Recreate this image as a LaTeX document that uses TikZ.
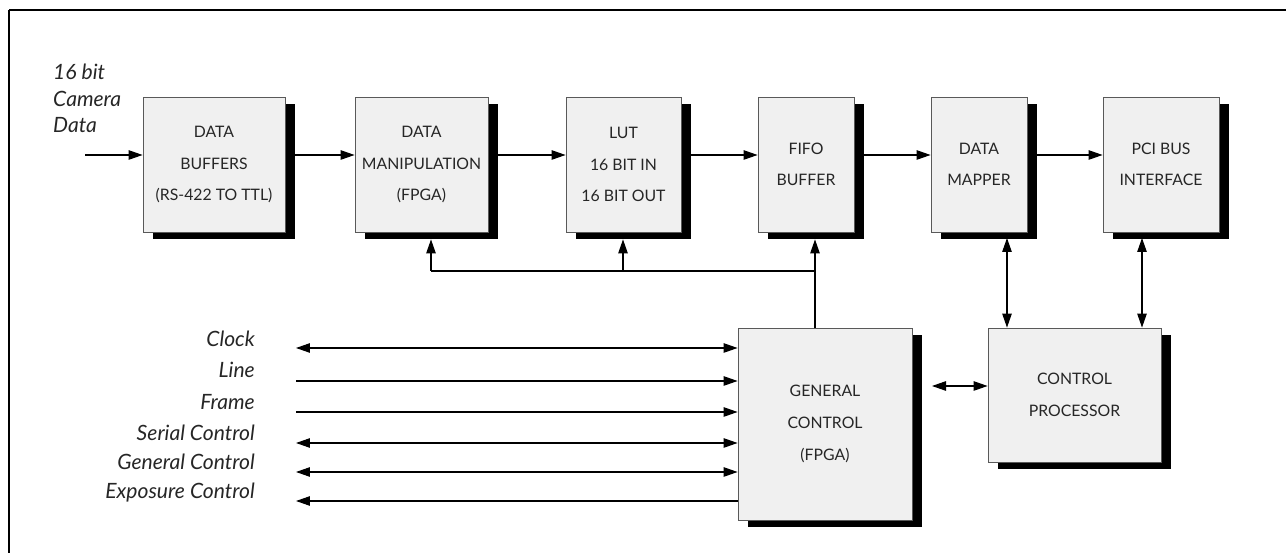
\documentclass[tikz,border=0pt]{standalone}
\usepackage{fontspec}
\setmainfont{Lato}
\usetikzlibrary{arrows.meta,shadows}

\begin{document}
\begin{tikzpicture}[x=0.02cm, y=-0.02cm,
    block/.style={draw=black!65, line width=0.5pt, fill=black!6, text=black!85,
        align=center, inner sep=0pt, font=\fontsize{9}{18}\selectfont,
        general shadow={fill=black, shadow xshift=0.2cm, shadow yshift=-0.14cm}},
    signal/.style={text=black!85, font=\itshape\fontsize{12}{15}\selectfont},
    wire/.style={line width=0.6pt},
    >={Triangle[length=0.28cm,width=0.19cm]}]
    \useasboundingbox (0,0) rectangle (1286,553);

    % page frame
    \draw[line width=1.1pt] (9,10) -- (1286,10);
    \draw[line width=0.85pt] (9,10) -- (9,553);

    % data path
    \node[block, minimum width=2.84cm, minimum height=2.7cm] (buf)    at (214,164.5)  {DATA\\BUFFERS\\(RS-422 TO TTL)};
    \node[block, minimum width=2.66cm, minimum height=2.7cm] (manip)  at (421.5,164.5) {DATA\\MANIPULATION\\(FPGA)};
    \node[block, minimum width=2.3cm,  minimum height=2.7cm] (lut)    at (623.5,164.5) {LUT\\16 BIT IN\\16 BIT OUT};
    \node[block, minimum width=1.92cm, minimum height=2.7cm] (fifo)   at (806,164.5)  {FIFO\\BUFFER};
    \node[block, minimum width=1.92cm, minimum height=2.7cm] (mapper) at (979,164.5)  {DATA\\MAPPER};
    \node[block, minimum width=2.32cm, minimum height=2.7cm] (pci)    at (1161,164.5) {PCI BUS\\INTERFACE};

    % control blocks
    \node[block, minimum width=3.48cm, minimum height=3.84cm] (gc) at (825,424)    {GENERAL\\CONTROL\\(FPGA)};
    \node[block, minimum width=3.46cm, minimum height=2.68cm] (cp) at (1074.5,395) {CONTROL\\PROCESSOR};

    % camera input
    \node[signal, anchor=base west, align=left, font=\itshape\fontsize{12}{15.2}\selectfont] (camlbl) at (47,133) {16 bit\\Camera\\Data};
    \coordinate (cam) at (85,155);
    \draw[wire,->] (cam) -- (cam -| buf.west);
    \draw[wire,->,shorten <=0.2cm] (cam -| buf.east)    -- (cam -| manip.west);
    \draw[wire,->,shorten <=0.2cm] (cam -| manip.east)  -- (cam -| lut.west);
    \draw[wire,->,shorten <=0.2cm] (cam -| lut.east)    -- (cam -| fifo.west);
    \draw[wire,->,shorten <=0.2cm] (cam -| fifo.east)   -- (cam -| mapper.west);
    \draw[wire,->,shorten <=0.2cm] (cam -| mapper.east) -- (cam -| pci.west);

    % control bus back to the data path
    \coordinate (tapA) at (431,271);
    \coordinate (tapB) at (623,271);
    \coordinate (tapC) at (815,271);
    \draw[wire] (tapC |- gc.north) -- (tapC) -- (tapA);
    \draw[wire,->,shorten >=0.14cm] (tapA) -- (tapA |- manip.south);
    \draw[wire,->,shorten >=0.14cm] (tapB) -- (tapB |- lut.south);
    \draw[wire,->,shorten >=0.14cm] (tapC) -- (tapC |- fifo.south);

    % processor links
    \coordinate (mapdn) at (1007,238);
    \coordinate (pcidn) at (1142,238);
    \draw[wire,<->] (mapdn) -- (mapdn |- cp.north);
    \draw[wire,<->] (pcidn) -- (pcidn |- cp.north);
    \coordinate (link) at (932,386);
    \draw[wire,<->] (link) -- (link -| cp.west);

    % camera signals
    \node[signal, anchor=base east] (clocklbl)  at (261,347) {Clock};
    \node[signal, anchor=base east] (linelbl)   at (261,378) {Line};
    \node[signal, anchor=base east] (framelbl)  at (261,410) {Frame};
    \node[signal, anchor=base east] (seriallbl) at (261,441) {Serial Control};
    \node[signal, anchor=base east] (genlbl)    at (261,470) {General Control};
    \node[signal, anchor=base east] (explbl)    at (261,499) {Exposure Control};

    \coordinate (clk) at (296,348);
    \coordinate (lin) at (296,381);
    \coordinate (frm) at (296,412);
    \coordinate (ser) at (296,443);
    \coordinate (gen) at (296,472);
    \coordinate (exp) at (296,501);
    \draw[wire,<->] (clk) -- (clk -| gc.west);
    \draw[wire,->]  (lin) -- (lin -| gc.west);
    \draw[wire,->]  (frm) -- (frm -| gc.west);
    \draw[wire,<->] (ser) -- (ser -| gc.west);
    \draw[wire,<->] (gen) -- (gen -| gc.west);
    \draw[wire,<-]  (exp) -- (exp -| gc.west);
\end{tikzpicture}
\end{document}
